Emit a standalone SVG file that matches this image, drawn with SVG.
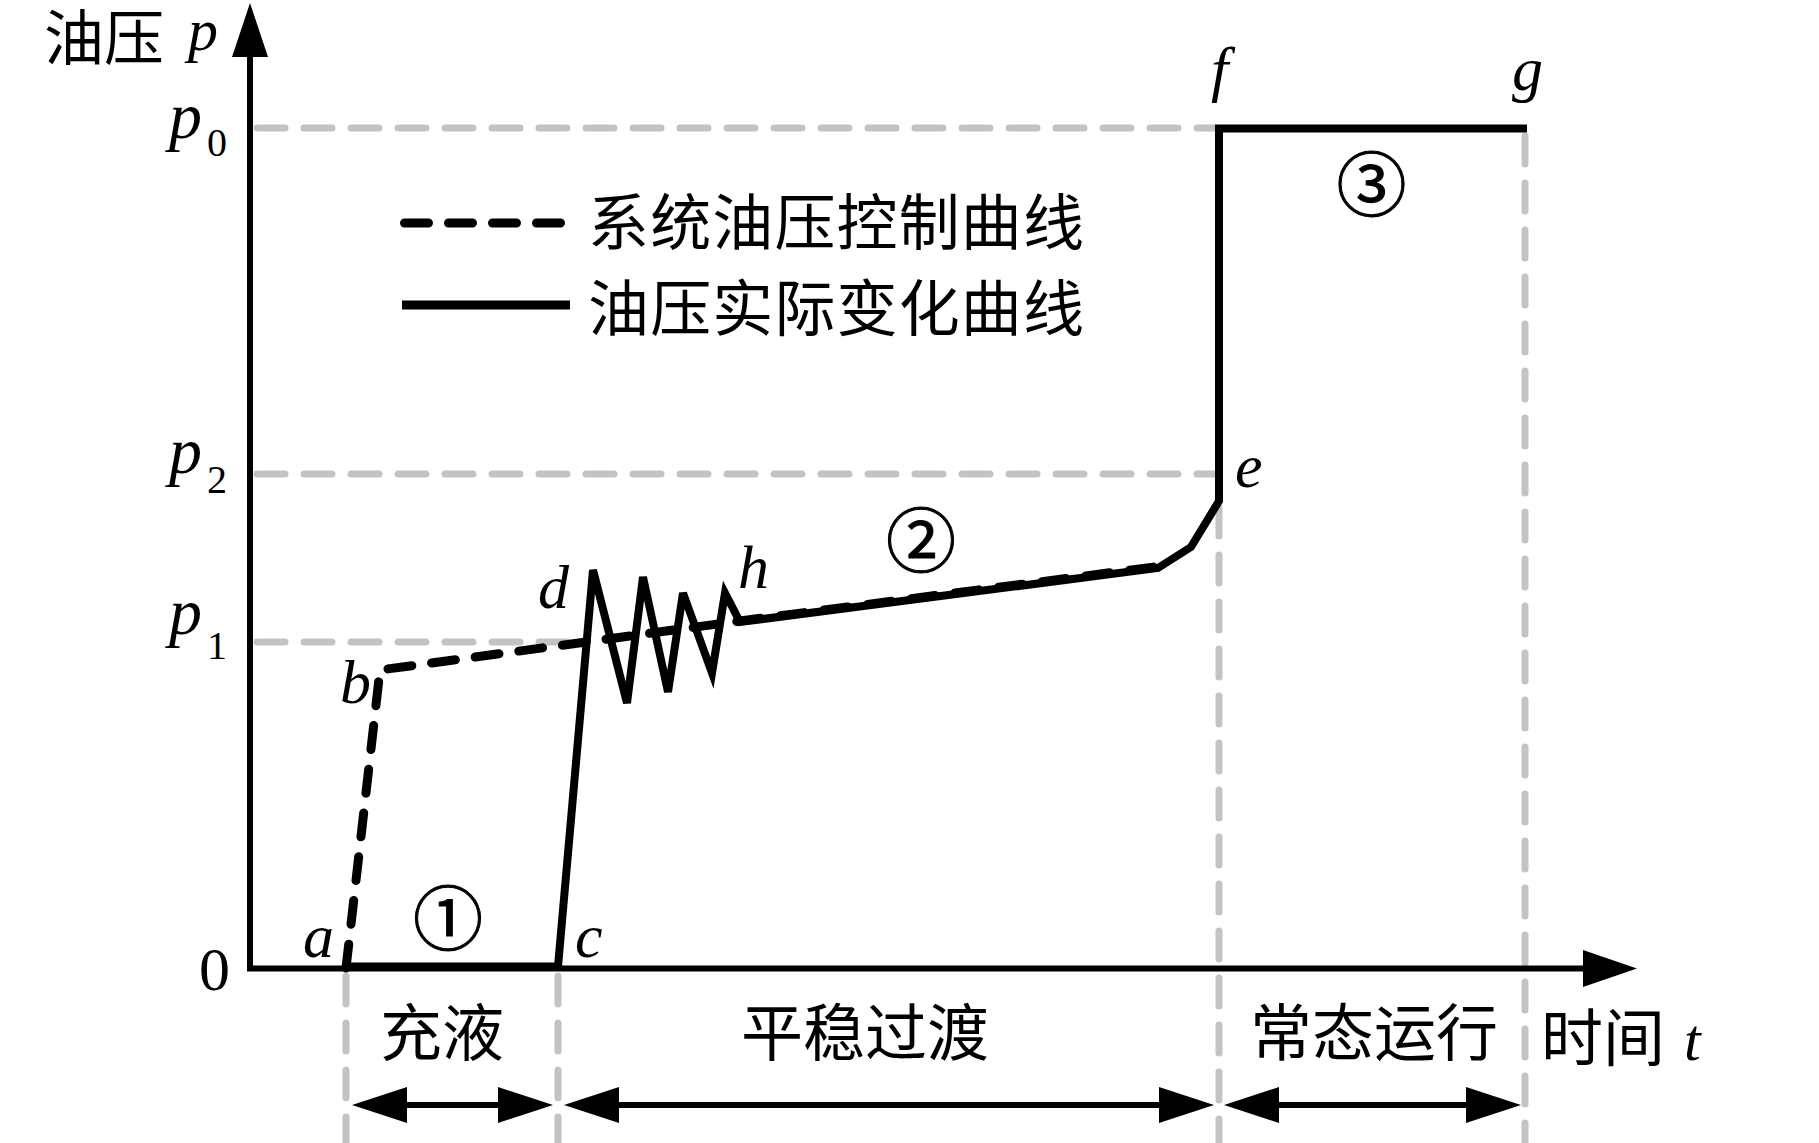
<svg xmlns="http://www.w3.org/2000/svg" width="1819" height="1143" viewBox="0 0 1819 1143">
<style>
.guide{fill:none;stroke:#c3c3c3;stroke-width:7;stroke-dasharray:28 19;stroke-linecap:round}
.axis{fill:none;stroke:#000;stroke-width:6}
.actual{fill:none;stroke:#000;stroke-width:8}
.control{fill:none;stroke:#000;stroke-width:9;stroke-dasharray:24 20;stroke-linecap:round;stroke-linejoin:round}
.span{fill:none;stroke:#000;stroke-width:6}
.cjk{font-family:"Noto Sans CJK SC","Noto Sans CJK JP",sans-serif;fill:#000}
.it{font-family:"Liberation Serif","Times New Roman",serif;font-style:italic;fill:#000}
.rm{font-family:"Liberation Serif","Times New Roman",serif;fill:#000}
.mark{font-family:"Noto Sans CJK SC","Noto Sans CJK JP",sans-serif;fill:#000;stroke:#000;stroke-width:1}
</style>
<defs>
<marker id="ah" markerUnits="userSpaceOnUse" markerWidth="56" markerHeight="38" viewBox="0 0 56 38" refX="36" refY="19" orient="auto-start-reverse">
<path d="M0,1 L55,19 L0,37 Z" fill="#000"/>
</marker>
</defs>
<rect width="1819" height="1143" fill="#fff"/>

<g id="guides">
<path class="guide" d="M257,128 L1214,128"/>
<path class="guide" d="M257,474 L1214,474"/>
<path class="guide" d="M257,642 L575,642"/>
<path class="guide" d="M346,976 L346,1143"/>
<path class="guide" d="M558,976 L558,1143"/>
<path class="guide" d="M1219,508 L1219,1143"/>
<path class="guide" d="M1525,136 L1525,1143"/>
</g>

<g id="axes">
<path class="axis" d="M250,971 L250,55"/>
<path class="axis" d="M247,968.5 L1590,968.5"/>
<path d="M250,3 L268,57 L232,57 Z" fill="#000"/>
<path d="M1637,968.5 L1583,950 L1583,987 Z" fill="#000"/>
</g>

<g id="curves">
<path id="control-curve" class="control" d="M346,968 L380,670 L740,621 L1158,566.5"/>
<path id="actual-curve" class="actual" d="M346,966.5 L558,966.5 L593,570 L627,703 L643,577 L668,692 L683,593 L712,673 L725,593 L740,622 L1158,568 L1191,547 L1219,501 L1219,128.5 L1527,128.5"/>
</g>

<g id="phase-spans">
<path class="span" d="M371,1105 L534,1105" marker-start="url(#ah)" marker-end="url(#ah)"/>
<path class="span" d="M583,1105 L1195,1105" marker-start="url(#ah)" marker-end="url(#ah)"/>
<path class="span" d="M1243,1105 L1502,1105" marker-start="url(#ah)" marker-end="url(#ah)"/>
</g>

<g id="legend">
<path class="control" d="M404.5,223 L560.5,223"/>
<path class="actual" style="stroke-width:9" d="M402,305 L570,305"/>
<text class="cjk" x="588" y="245" font-size="61" textLength="496" lengthAdjust="spacing">系统油压控制曲线</text>
<text class="cjk" x="588" y="331" font-size="61" textLength="496" lengthAdjust="spacing">油压实际变化曲线</text>
</g>

<g id="axis-labels">
<text class="cjk" x="44" y="60" font-size="60">油压</text>
<text class="it" x="188" y="50" font-size="60">p</text>
<text class="rm" x="199" y="990" font-size="62">0</text>
<text class="it" x="169" y="138" font-size="66">p</text>
<text class="rm" x="207" y="156" font-size="40">0</text>
<text class="it" x="169" y="473" font-size="66">p</text>
<text class="rm" x="207" y="493" font-size="40">2</text>
<text class="it" x="169" y="634" font-size="66">p</text>
<text class="rm" x="207" y="659" font-size="40">1</text>
<text class="cjk" x="1541" y="1061" font-size="62">时间</text>
<text class="it" x="1684" y="1060" font-size="60">t</text>
</g>

<g id="point-labels">
<text class="it" x="303" y="957" font-size="62">a</text>
<text class="it" x="340" y="703" font-size="62">b</text>
<text class="it" x="575" y="957" font-size="62">c</text>
<text class="it" x="538" y="608" font-size="62">d</text>
<text class="it" x="1235" y="487" font-size="62">e</text>
<text class="it" x="1211" y="90" font-size="62">f</text>
<text class="it" x="1512" y="90" font-size="62">g</text>
<text class="it" x="738" y="588" font-size="62">h</text>
</g>

<g id="stage-marks">
<text class="mark" x="448" y="945" font-size="70" text-anchor="middle">①</text>
<text class="mark" x="921" y="567" font-size="70" text-anchor="middle">②</text>
<text class="mark" x="1371.5" y="211" font-size="70" text-anchor="middle">③</text>
</g>

<g id="phase-labels">
<text class="cjk" x="442" y="1056" font-size="62" text-anchor="middle">充液</text>
<text class="cjk" x="865" y="1056" font-size="62" text-anchor="middle">平稳过渡</text>
<text class="cjk" x="1374" y="1056" font-size="62" text-anchor="middle">常态运行</text>
</g>
</svg>
